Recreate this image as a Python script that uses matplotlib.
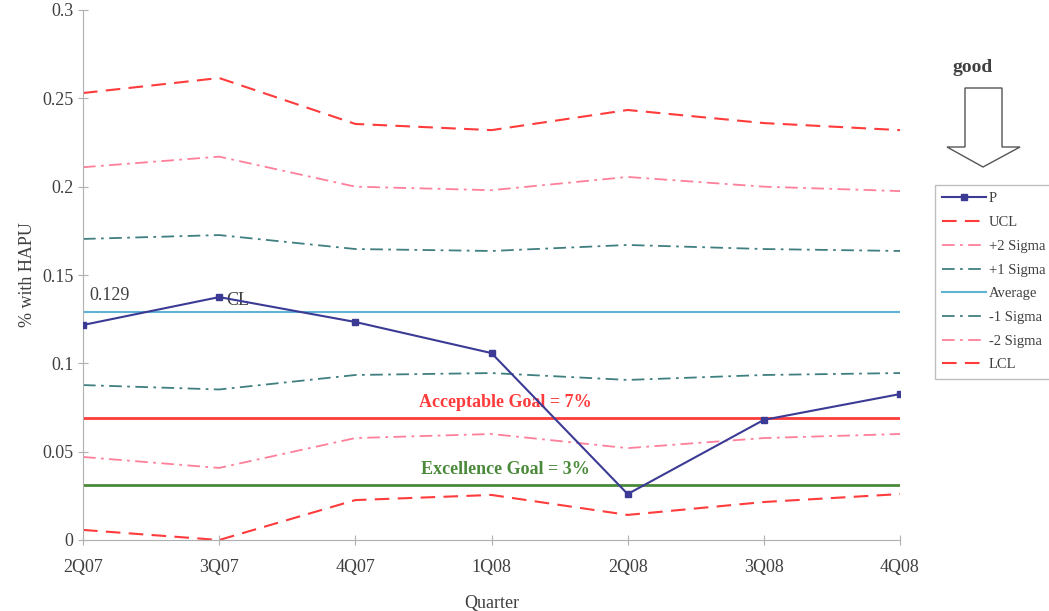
import matplotlib
matplotlib.use('Agg')
import matplotlib.pyplot as plt
from matplotlib.patches import Polygon

plt.rcParams['font.family'] = ['Liberation Serif', 'DejaVu Serif']
plt.rcParams['font.size'] = 13

# quarterly HAPU data
quarters = ['2Q07', '3Q07', '4Q07', '1Q08', '2Q08', '3Q08', '4Q08']
p = [0.1217, 0.1375, 0.1234, 0.1058, 0.026, 0.068, 0.0826]
ucl = [0.253, 0.2615, 0.2355, 0.232, 0.2434, 0.236, 0.232]
plus2 = [0.211, 0.217, 0.2, 0.198, 0.2055, 0.2, 0.1975]
plus1 = [0.1704, 0.1726, 0.1647, 0.1636, 0.167, 0.1647, 0.1636]
average = [0.129] * 7
minus1 = [0.0877, 0.0852, 0.0934, 0.0945, 0.0906, 0.0934, 0.0945]
minus2 = [0.047, 0.0408, 0.0577, 0.06, 0.052, 0.0577, 0.06]
lcl = [0.0057, 0.0, 0.0226, 0.0255, 0.0142, 0.0215, 0.026]
acceptable_goal = 0.069
excellence_goal = 0.031

red = '#ff3b3b'
pink = '#ff7f9a'
teal = '#3f7f80'
lightblue = '#5fb4d4'
navy = '#3b3b95'
green = '#4a8a3a'
txt = '#404040'

fig = plt.figure(figsize=(10.49, 6.11), dpi=100)
ax = fig.add_axes([83 / 1049, 1 - 540 / 611, (900 - 83) / 1049, 530 / 611])

x = range(len(quarters))
ax.axhline(acceptable_goal, color=red, lw=2, zorder=1)
ax.axhline(excellence_goal, color=green, lw=2, zorder=1)

ax.plot(x, p, '-s', color=navy, lw=1.5, markersize=4, label='P', zorder=5)
ax.plot(x, ucl, color=red, lw=1.5, dashes=(7, 4), label='UCL')
ax.plot(x, plus2, color=pink, lw=1.3, dashes=(7, 3, 1.5, 3), label='+2 Sigma')
ax.plot(x, plus1, color=teal, lw=1.3, dashes=(7, 3, 1.5, 3), label='+1 Sigma')
ax.plot(x, average, color=lightblue, lw=1.5, label='Average')
ax.plot(x, minus1, color=teal, lw=1.3, dashes=(7, 3, 1.5, 3), label='-1 Sigma')
ax.plot(x, minus2, color=pink, lw=1.3, dashes=(7, 3, 1.5, 3), label='-2 Sigma')
ax.plot(x, lcl, color=red, lw=1.5, dashes=(7, 4), label='LCL')

ax.text(0.05, average[0] + 0.007, '0.129', fontsize=13, color=txt)
ax.text(1.05, p[1] - 0.002, 'CL', fontsize=13, color=txt, va='center')
ax.text(3.1, acceptable_goal + 0.004, 'Acceptable Goal = 7%', color=red,
        fontsize=13, fontweight='bold', ha='center', va='bottom')
ax.text(3.1, excellence_goal + 0.004, 'Excellence Goal = 3%', color=green,
        fontsize=13, fontweight='bold', ha='center', va='bottom')

ax.set_xlim(0, 6)
ax.set_ylim(0, 0.3)
ax.set_xticks(list(x), quarters)
ax.set_yticks([0, 0.05, 0.1, 0.15, 0.2, 0.25, 0.3],
              ['0', '0.05', '0.1', '0.15', '0.2', '0.25', '0.3'])
for s in ['top', 'right']:
    ax.spines[s].set_visible(False)
for s in ['left', 'bottom']:
    ax.spines[s].set_color('#b0b0b0')
ax.tick_params(axis='both', colors='#b0b0b0', labelcolor=txt,
               direction='inout', length=7, labelsize=13)
ax.tick_params(axis='x', pad=10)
ax.set_ylabel('% with HAPU', fontsize=13, color=txt, labelpad=4)
ax.set_xlabel('Quarter', fontsize=13, color=txt, labelpad=14)

leg = fig.legend(loc='upper left', bbox_to_anchor=(935 / 1049, 1 - 185 / 611),
                 fontsize=10.5, frameon=True, fancybox=False, numpoints=1,
                 handlelength=3.0, handletextpad=0.2, labelspacing=0.72,
                 borderpad=0.5, borderaxespad=0)
leg.get_frame().set_edgecolor('#b0b0b0')
leg.get_frame().set_linewidth(1)
for t in leg.get_texts():
    t.set_color(txt)

# "good" direction arrow
W, H = 1049, 611
pts = [(965, 88), (1002, 88), (1002, 147), (1020, 147), (983, 167),
       (947, 147), (965, 147)]
arrow = Polygon([(px / W, 1 - py / H) for px, py in pts], closed=True,
                facecolor='white', edgecolor='#555555', lw=1,
                transform=fig.transFigure)
fig.patches.append(arrow)
fig.text(973 / W, 1 - 68 / H, 'good', ha='center', va='center',
         fontsize=14, fontweight='bold', color=txt)

fig.savefig('out.png', dpi=100)
